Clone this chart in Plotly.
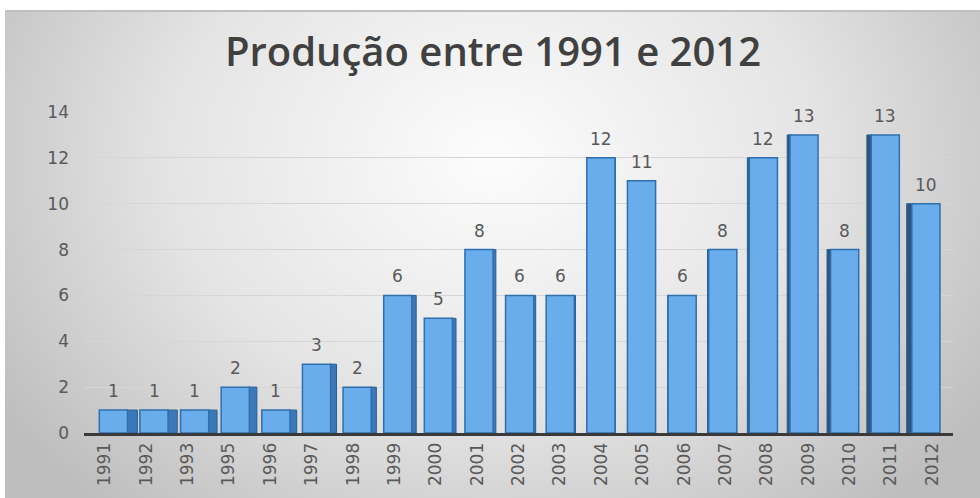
import numpy as np
import plotly.graph_objects as go

years = ["1991", "1992", "1993", "1995", "1996", "1997", "1998", "1999", "2000", "2001", "2002",
         "2003", "2004", "2005", "2006", "2007", "2008", "2009", "2010", "2011", "2012"]
producao = [1, 1, 1, 2, 1, 3, 2, 6, 5, 8, 6, 6, 12, 11, 6, 8, 12, 13, 8, 13, 10]
y_ticks = [0, 2, 4, 6, 8, 10, 12, 14]
title_text = "Produção entre 1991 e 2012"

W, H = 980, 498

# radial gradient background (chart area)
gx = np.linspace(0, 1, 120)
gy = np.linspace(0, 1, 60)
GX, GY = np.meshgrid(gx, gy)
dist = np.sqrt(((GX - 0.5) / 0.6) ** 2 + ((GY - 0.7) / 0.95) ** 2)
zbg = np.clip(dist, 0, 1)

fig = go.Figure()
fig.add_trace(go.Heatmap(
    x=gx, y=gy, z=zbg, zsmooth="best", showscale=False, hoverinfo="skip",
    colorscale=[[0, "#FCFCFC"], [0.55, "#E4E4E4"], [1, "#BEBEBE"]],
    xaxis="x", yaxis="y",
))

# 3-D look: perspective shift of each bar plus a darker side face
n = len(years)
centre = 11.5
front_w = 0.68
persp = [(centre - i) / centre * 0.21 for i in range(n)]
depth = [(12.5 - i) / 12.5 * 0.24 for i in range(n)]
front_offset = [-front_w / 2 + p for p in persp]
side_offset = [p + (front_w / 2 - 0.02 if d > 0 else -front_w / 2 + d + 0.02)
               for p, d in zip(persp, depth)]
side_width = [abs(d) + 0.02 for d in depth]
side_color = ["#3A78BA" if d > 0 else "#31557A" for d in depth]

fig.add_trace(go.Bar(
    x=years, y=producao, offset=side_offset, width=side_width,
    marker=dict(color=side_color, line=dict(color="#2A5E93", width=1)),
    hoverinfo="skip", xaxis="x2", yaxis="y2",
))

fig.add_trace(go.Bar(
    x=years, y=producao, offset=front_offset, width=front_w,
    marker=dict(color="#6AADEC", line=dict(color="#2E6FAE", width=1.5)),
    xaxis="x2", yaxis="y2",
))

# data labels above the bars (x given as category index)
for i, v in enumerate(producao):
    fig.add_annotation(x=i + persp[i], y=v, xref="x2", yref="y2", text=str(v), showarrow=False,
                       yanchor="bottom", yshift=7,
                       font=dict(family="DejaVu Sans", size=17, color="#595959"))

fig.update_layout(
    width=W, height=H,
    margin=dict(l=0, r=0, t=0, b=0, autoexpand=False),
    paper_bgcolor="white",
    plot_bgcolor="rgba(0,0,0,0)",
    showlegend=False,
    barmode="overlay",
    title=dict(text=title_text, x=493 / W, xanchor="center", y=1 - 52 / H, yanchor="middle",
               automargin=False,
               font=dict(family="Open Sans", size=40, color="#404040", weight=600)),
    xaxis=dict(domain=[5 / W, 1], range=[0, 1], visible=False, fixedrange=True, automargin=False),
    yaxis=dict(domain=[0, 1 - 11 / H], range=[0, 1], visible=False, fixedrange=True, automargin=False),
    xaxis2=dict(domain=[84 / W, 953 / W], anchor="y2", type="category", automargin=False,
                categoryorder="array", categoryarray=years, range=[-0.5, n - 0.5],
                tickangle=-90, tickfont=dict(family="DejaVu Sans", size=17, color="#595959"),
                showline=True, linecolor="#3A3A3A", linewidth=3, ticks="",
                showgrid=False),
    yaxis2=dict(domain=[(H - 433) / H, (H - 112) / H], anchor="x2", range=[0, 14], automargin=False,
                tickvals=y_ticks, tickfont=dict(family="DejaVu Sans", size=17, color="#595959"),
                showgrid=True, gridcolor="#D6D6D6", gridwidth=1, zeroline=False,
                ticklabelstandoff=14, showline=False),
)

# floor band and chart-area top border
fig.add_shape(type="rect", xref="x2 domain", yref="y2 domain", x0=0, x1=1, y0=0, y1=0.035,
              fillcolor="rgba(120,120,120,0.22)", line=dict(width=0), layer="below")
fig.add_shape(type="line", xref="paper", yref="paper", x0=5 / W, x1=1, y0=1 - 11 / H, y1=1 - 11 / H,
              line=dict(color="#BFBFBF", width=2))

fig.write_html("out.html")
